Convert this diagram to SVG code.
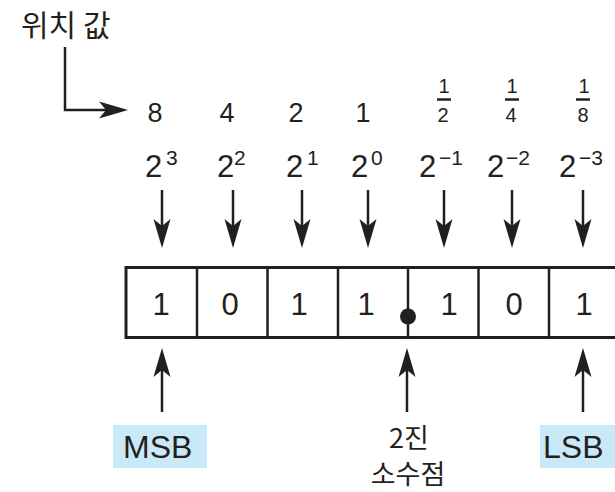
<svg xmlns="http://www.w3.org/2000/svg" width="615" height="492" viewBox="0 0 615 492">
<style>
  .t { font-family: "Liberation Sans", Arial, sans-serif; fill: #231f20; }
  .k { font-family: "Noto Sans CJK KR", "Noto Sans", sans-serif; fill: #231f20; }
  .val { font-size: 27px; text-anchor: middle; }
  .fr { font-size: 20px; text-anchor: middle; }
  .base { font-size: 31px; }
  .sup { font-size: 21px; }
  .bit { font-size: 31px; text-anchor: middle; }
  .lbl { font-size: 32px; }
  .ln { stroke: #231f20; stroke-width: 2.5; fill: none; }
  .arr { stroke: #231f20; stroke-width: 2.5; fill: none; marker-end: url(#ah); }
  .cell { stroke: #231f20; stroke-width: 3; fill: #ffffff; }
  .tag { fill: #c9e9f9; }
</style>
<defs>
  <marker id="ah" markerUnits="userSpaceOnUse" viewBox="-30 -10 31 20" markerWidth="31" markerHeight="20" refX="-10" refY="0" orient="auto" overflow="visible">
    <path d="M0,0 L-29,-8.5 L-22,0 L-29,8.5 Z" fill="#231f20"/>
  </marker>
</defs>
<rect width="615" height="492" fill="#ffffff"/>

<g id="label-position">
  <text class="k" x="21" y="36" font-size="30">위치 값</text>
</g>

<g id="values">
  <text class="t val" x="155" y="122">8</text>
  <text class="t val" x="227" y="122">4</text>
  <text class="t val" x="296" y="122">2</text>
  <text class="t val" x="363" y="122">1</text>
  <g id="frac-half">
    <text class="t fr" x="444" y="93">1</text>
    <line class="ln" x1="437" y1="99.5" x2="451" y2="99.5" stroke-width="2"/>
    <text class="t fr" x="443" y="122">2</text>
  </g>
  <g id="frac-quarter">
    <text class="t fr" x="512" y="93">1</text>
    <line class="ln" x1="505" y1="99.5" x2="519" y2="99.5" stroke-width="2"/>
    <text class="t fr" x="511" y="122">4</text>
  </g>
  <g id="frac-eighth">
    <text class="t fr" x="584" y="93">1</text>
    <line class="ln" x1="576" y1="99.5" x2="590" y2="99.5" stroke-width="2"/>
    <text class="t fr" x="583" y="122">8</text>
  </g>
</g>

<g id="powers">
  <text class="t base" x="145" y="177">2</text><text class="t sup" x="166" y="165">3</text>
  <text class="t base" x="217" y="177">2</text><text class="t sup" x="234" y="165">2</text>
  <text class="t base" x="286" y="177">2</text><text class="t sup" x="307" y="165">1</text>
  <text class="t base" x="351" y="177">2</text><text class="t sup" x="371" y="165">0</text>
  <text class="t base" x="419" y="177">2</text><text class="t sup" x="439" y="165">−1</text>
  <text class="t base" x="487" y="177">2</text><text class="t sup" x="506" y="165">−2</text>
  <text class="t base" x="559" y="177">2</text><text class="t sup" x="579" y="165">−3</text>
</g>

<g id="register">
  <rect class="cell" x="126" y="267.5" width="494" height="70"/>
  <line class="ln" stroke-width="3" x1="197" y1="267.5" x2="197" y2="337.5"/>
  <line class="ln" stroke-width="3" x1="267.5" y1="267.5" x2="267.5" y2="337.5"/>
  <line class="ln" stroke-width="3" x1="338" y1="267.5" x2="338" y2="337.5"/>
  <line class="ln" stroke-width="3" x1="408" y1="267.5" x2="408" y2="337.5"/>
  <line class="ln" stroke-width="3" x1="478.5" y1="267.5" x2="478.5" y2="337.5"/>
  <line class="ln" stroke-width="3" x1="549" y1="267.5" x2="549" y2="337.5"/>
  <text class="t bit" x="161" y="315">1</text>
  <text class="t bit" x="230" y="315">0</text>
  <text class="t bit" x="299" y="315">1</text>
  <text class="t bit" x="366" y="315">1</text>
  <text class="t bit" x="449" y="315">1</text>
  <text class="t bit" x="514" y="315">0</text>
  <text class="t bit" x="584" y="315">1</text>
  <circle id="binary-point-dot" cx="408" cy="316.5" r="8" fill="#231f20"/>
</g>

<g id="msb">
  <rect class="tag" x="113" y="425" width="94" height="43"/>
  <text class="t lbl" x="123" y="458">MSB</text>
</g>
<g id="lsb">
  <rect class="tag" x="540" y="425" width="80" height="43"/>
  <text class="t lbl" x="543" y="458">LSB</text>
</g>
<g id="binary-point">
  <text class="k" x="409" y="448" font-size="27" text-anchor="middle">2진</text>
  <text class="k" x="408" y="484" font-size="27" text-anchor="middle">소수점</text>
</g>

<g id="connectors">
  <path class="arr" d="M65,47 L65,110 L118,110"/>
  <line class="arr" x1="162" y1="190" x2="162" y2="238"/>
  <line class="arr" x1="233" y1="190" x2="233" y2="238"/>
  <line class="arr" x1="302" y1="190" x2="302" y2="238"/>
  <line class="arr" x1="368" y1="190" x2="368" y2="238"/>
  <line class="arr" x1="444" y1="190" x2="444" y2="238"/>
  <line class="arr" x1="512" y1="190" x2="512" y2="238"/>
  <line class="arr" x1="583" y1="190" x2="583" y2="238"/>
  <line class="arr" x1="162" y1="412" x2="162" y2="358"/>
  <line class="arr" x1="407" y1="412" x2="407" y2="358"/>
  <line class="arr" x1="583" y1="412" x2="583" y2="358"/>
</g>
</svg>
